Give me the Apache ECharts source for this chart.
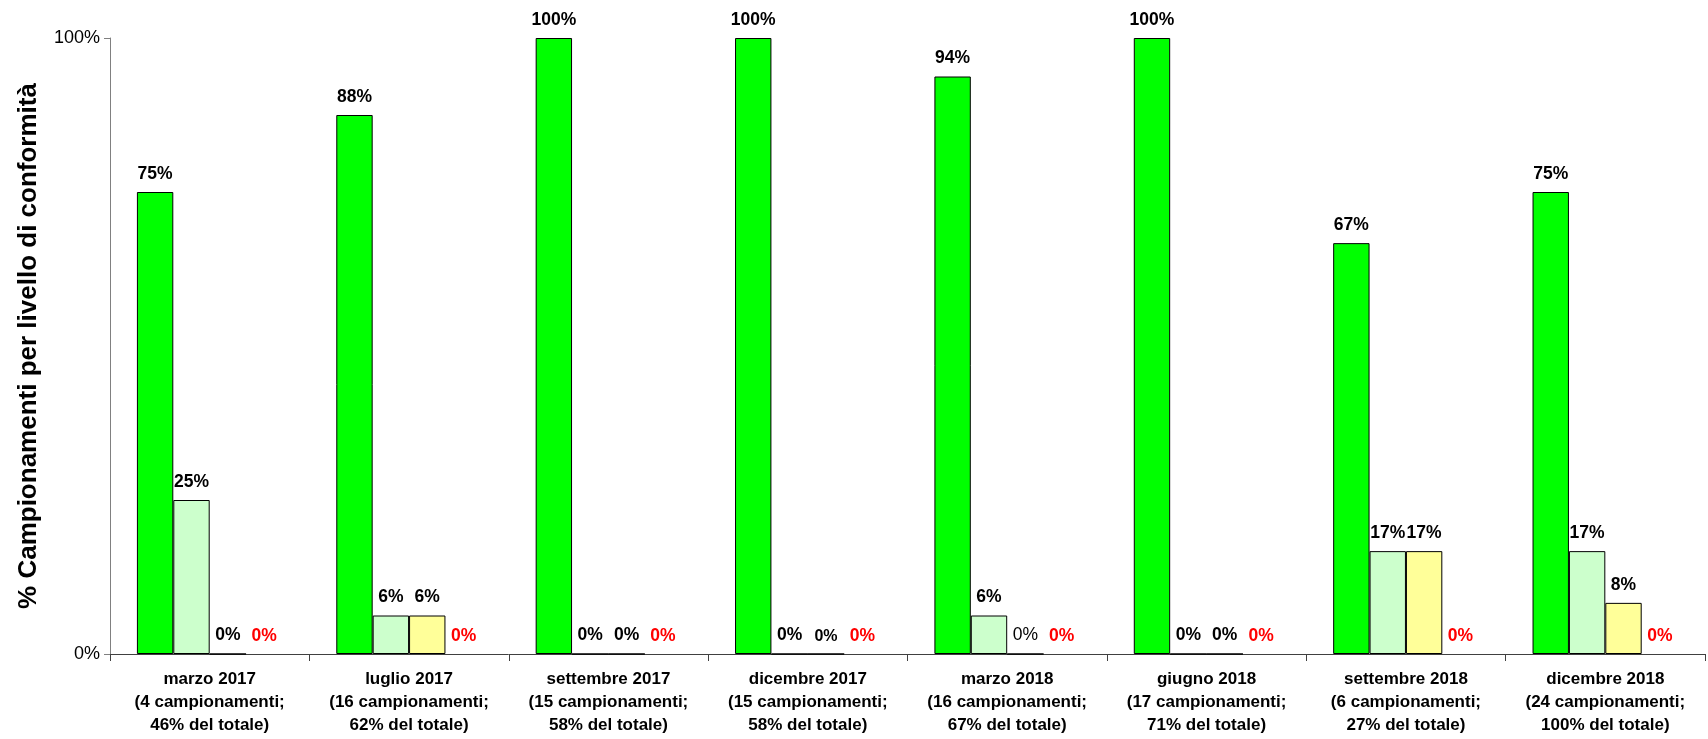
<!DOCTYPE html>
<html>
<head>
<meta charset="utf-8">
<script src="https://cdn.jsdelivr.net/npm/echarts@6/dist/echarts.min.js"></script>
<style>
html,body{margin:0;padding:0;background:#fff;}
#chart{width:1708px;height:739px;}
</style>
</head>
<body>
<div id="chart"></div>
<script>
const categories = [
  "marzo 2017\n(4 campionamenti;\n46% del totale)",
  "luglio 2017\n(16 campionamenti;\n62% del totale)",
  "settembre 2017\n(15 campionamenti;\n58% del totale)",
  "dicembre 2017\n(15 campionamenti;\n58% del totale)",
  "marzo 2018\n(16 campionamenti;\n67% del totale)",
  "giugno 2018\n(17 campionamenti;\n71% del totale)",
  "settembre 2018\n(6 campionamenti;\n27% del totale)",
  "dicembre 2018\n(24 campionamenti;\n100% del totale)"
];
const livello1 = [75, 87.5, 100, 100, 93.75, 100, 66.7, 75];
const livello2 = [25, 6.25, 0, 0, 6.25, 0, 16.7, 16.7];
const livello3 = [0, 6.25, 0, 0, 0, 0, 16.7, 8.3];
const livello4 = [0, 0, 0, 0, 0, 0, 0, 0];
const yTicks = [0, 100];

const FONT = "'Liberation Sans', Arial, sans-serif";
const fmt = p => Math.round(p.value) + '%';

function lbl(color) {
  return {show: true, position: 'top', distance: 9, formatter: fmt,
    color: color, fontFamily: FONT, fontSize: 17.5, fontWeight: 'bold'};
}
function items(arr, overrides) {
  return arr.map((v, i) => overrides && overrides[i] ? {value: v, label: overrides[i]} : v);
}

const chart = echarts.init(document.getElementById('chart'));
chart.setOption({
  animation: false,
  backgroundColor: '#ffffff',
  grid: {left: 110, right: 3, top: 38, bottom: 85},
  xAxis: {
    type: 'category',
    data: categories,
    axisLine: {lineStyle: {color: '#404040', width: 1}},
    axisTick: {show: true, length: 7, lineStyle: {color: '#404040'}},
    axisLabel: {
      interval: 0, margin: 14, color: '#000', fontFamily: FONT,
      fontSize: 17, fontWeight: 'bold', lineHeight: 23
    }
  },
  yAxis: {
    type: 'value', min: yTicks[0], max: yTicks[1], interval: 100,
    name: '% Campionamenti per livello di conformità',
    nameLocation: 'middle', nameGap: 68,
    nameTextStyle: {color: '#000', fontFamily: FONT, fontSize: 26, fontWeight: 'bold'},
    splitLine: {show: false},
    axisLine: {show: true, lineStyle: {color: '#808080', width: 1}},
    axisTick: {show: true, length: 6, lineStyle: {color: '#808080'}},
    axisLabel: {formatter: '{value}%', color: '#000', fontFamily: FONT, fontSize: 18, margin: 10}
  },
  series: [
    {type: 'bar', data: livello1, barGap: '0%', barCategoryGap: '27%',
     itemStyle: {color: '#00ff00', borderColor: '#000', borderWidth: 1}, label: lbl('#000')},
    {type: 'bar', data: livello2,
     itemStyle: {color: '#ccffcc', borderColor: '#000', borderWidth: 1}, label: lbl('#000')},
    {type: 'bar', data: items(livello3, {3: {fontSize: 16}, 4: {fontWeight: 'normal'}}),
     itemStyle: {color: '#ffff99', borderColor: '#000', borderWidth: 1}, label: lbl('#000')},
    {type: 'bar', data: livello4,
     itemStyle: {color: '#ff0000', borderColor: '#ff0000', borderWidth: 0}, label: lbl('#ff0000')}
  ]
});
</script>
</body>
</html>
